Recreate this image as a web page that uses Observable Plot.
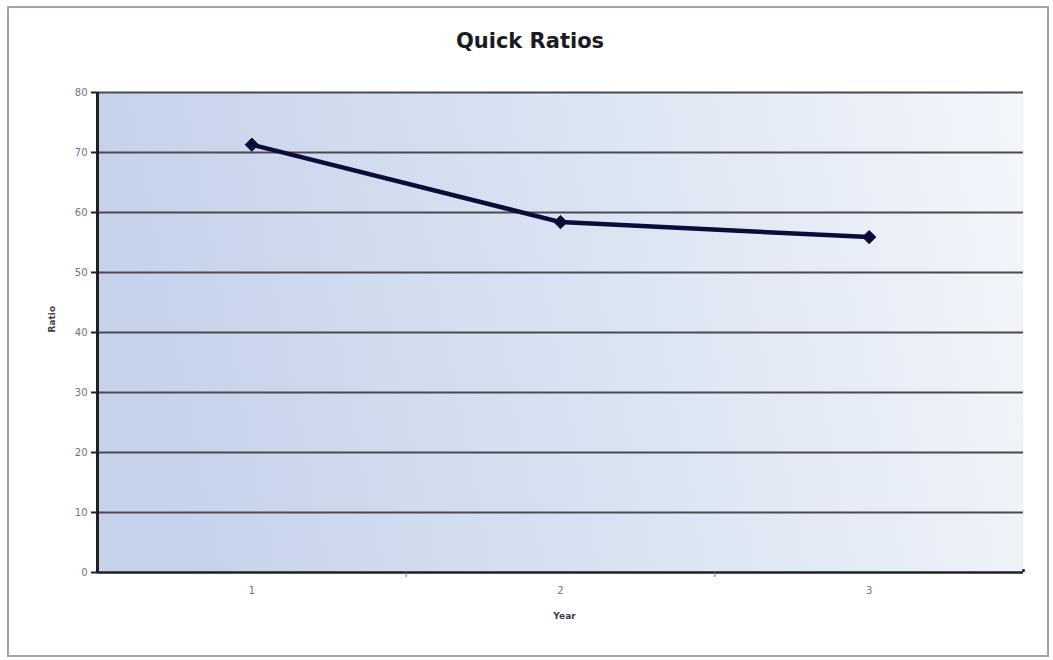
<!DOCTYPE html>
<html>
<head>
<meta charset="utf-8">
<script src="https://cdn.jsdelivr.net/npm/d3@7"></script>
<script src="https://cdn.jsdelivr.net/npm/@observablehq/plot@0.6"></script>
<style>
  html, body { margin: 0; padding: 0; background: #fff; }
  #wrap { position: relative; width: 1053px; height: 660px; overflow: hidden; }
  #border { position: absolute; left: 7px; top: 6px; width: 1038px; height: 647px; border: 2px solid #a0a4ae; box-sizing: content-box; }
  #title { position: absolute; left: 0; top: 29px; width: 1060px; text-align: center; font-family: "DejaVu Sans", Verdana, sans-serif; font-weight: bold; font-size: 21px; color: #1a1a22; }
  #chart { position: absolute; left: 0; top: 70px; }
</style>
</head>
<body>
<div id="wrap">
  <div id="border"></div>
  <div id="title">Quick Ratios</div>
  <div id="chart"></div>
</div>
<script>
const years = [1, 2, 3];
const ratios = [71.3, 58.4, 55.9];
const yTicks = [0, 10, 20, 30, 40, 50, 60, 70, 80];
const xLabels = ["1", "2", "3"];

const data = years.map((y, i) => ({year: y, ratio: ratios[i]}));

const gradientDefs = () => {
  const g = d3.create("svg:defs");
  const lg = g.append("linearGradient").attr("id", "bg").attr("x1", "0").attr("y1", "0.1").attr("x2", "1").attr("y2", "0");
  lg.append("stop").attr("offset", "0%").attr("stop-color", "#c6d2ea");
  lg.append("stop").attr("offset", "55%").attr("stop-color", "#dce5f3");
  lg.append("stop").attr("offset", "100%").attr("stop-color", "#f3f6fb");
  return g.node();
};

const chart = Plot.plot({
  width: 1053,
  height: 590,
  marginTop: 22,
  marginBottom: 88,
  marginLeft: 97,
  marginRight: 30,
  style: {fontFamily: "DejaVu Sans, Verdana, sans-serif", background: "transparent"},
  x: {type: "linear", domain: [0.5, 3.5]},
  y: {domain: [0, 80]},
  marks: [
    gradientDefs,
    Plot.frame({fill: "url(#bg)", stroke: null}),
    Plot.ruleY(yTicks.slice(1), {stroke: "#4a4a50", strokeWidth: 2.2}),
    Plot.ruleY([0], {stroke: "#202024", strokeWidth: 2.5}),
    Plot.ruleX([0.5], {stroke: "#202024", strokeWidth: 3}),
    Plot.ruleX([3.5], {y1: 0, y2: 0.5, stroke: "#202024", strokeWidth: 2.5}),
    Plot.axisY({ticks: yTicks, tickSize: 6, tickPadding: 4, fontSize: 10, color: "#6b7590", stroke: "#202024", strokeWidth: 2, label: null}),
    Plot.axisX({ticks: years, tickSize: 0, tickPadding: 14, fontSize: 10, color: "#6b7590", tickFormat: (d) => xLabels[d - 1], label: null}),
    Plot.axisX({ticks: [1.5, 2.5], tickSize: 5, tickFormat: () => "", stroke: "#707078", label: null}),
    Plot.text(["Ratio"], {frameAnchor: "left", dx: -45, rotate: -90, fontWeight: "bold", fontSize: 9, fill: "#3a3d48"}),
    Plot.text(["Year"], {frameAnchor: "bottom", dy: 46, dx: 4, fontWeight: "bold", fontSize: 9, fill: "#3a3d48"}),
    Plot.line(data, {x: "year", y: "ratio", stroke: "#0b0c3a", strokeWidth: 4.5}),
    Plot.dot(data, {x: "year", y: "ratio", symbol: "diamond2", r: 6, fill: "#0b0c3a", stroke: "#0b0c3a", strokeWidth: 1})
  ]
});
document.getElementById("chart").appendChild(chart);
</script>
</body>
</html>
